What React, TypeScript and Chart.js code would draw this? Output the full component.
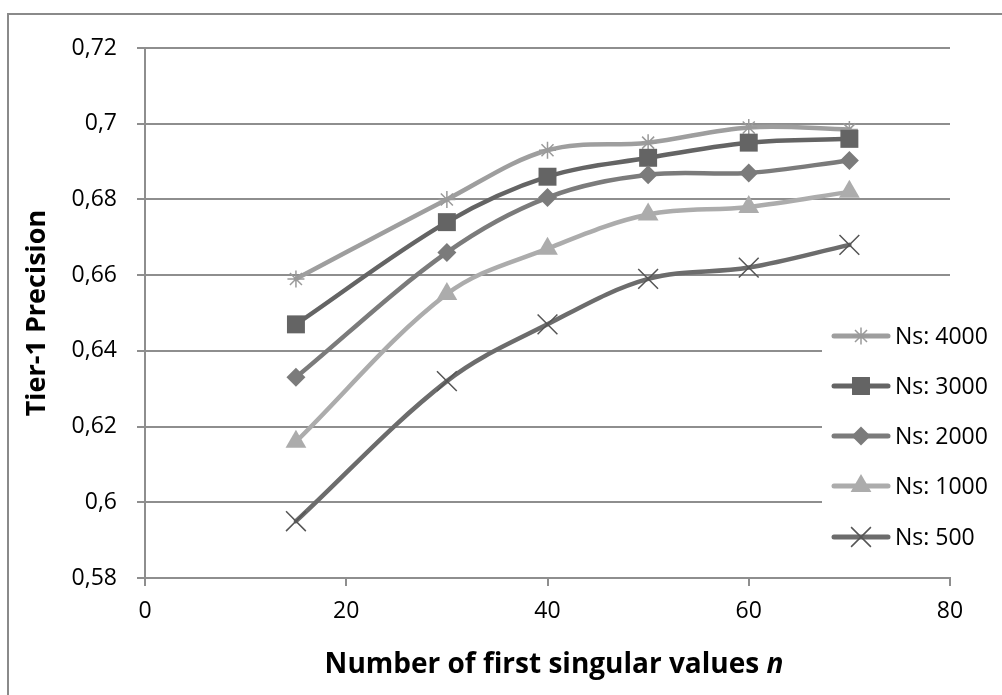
import { useEffect, useRef } from 'react';
import { Chart, registerables } from 'chart.js';

Chart.register(...registerables);

const X_VALUES = [15, 30, 40, 50, 60, 70];
const NS_4000 = [0.659, 0.68, 0.693, 0.695, 0.699, 0.6985];
const NS_3000 = [0.647, 0.674, 0.686, 0.691, 0.695, 0.696];
const NS_2000 = [0.633, 0.666, 0.6805, 0.6865, 0.687, 0.6903];
const NS_1000 = [0.616, 0.655, 0.667, 0.676, 0.678, 0.682];
const NS_500 = [0.595, 0.632, 0.647, 0.659, 0.662, 0.668];

const SERIES_LABELS = ['Ns: 4000', 'Ns: 3000', 'Ns: 2000', 'Ns: 1000', 'Ns: 500'];

const X_TICKS = [0, 20, 40, 60, 80];
const X_TICK_LABELS = ['0', '20', '40', '60', '80'];
const Y_TICKS = [0.58, 0.6, 0.62, 0.64, 0.66, 0.68, 0.7, 0.72];
const Y_TICK_LABELS = ['0,58', '0,6', '0,62', '0,64', '0,66', '0,68', '0,7', '0,72'];

const X_TITLE = 'Number of first singular values ';
const X_TITLE_ITALIC = 'n';
const Y_TITLE = 'Tier-1 Precision';

const FONT = "'Open Sans', 'DejaVu Sans', sans-serif";

type Style = {
  line: string;
  fill: string;
  stroke: string;
  point: string;
  radius: number;
  bw: number;
};

const STYLES: Style[] = [
  { line: '#9e9e9e', fill: 'rgba(0,0,0,0)', stroke: '#9a9a9a', point: 'star', radius: 8.5, bw: 1.5 },
  { line: '#646464', fill: '#646464', stroke: '#646464', point: 'rect', radius: 12.7, bw: 0 },
  { line: '#7b7b7b', fill: '#7b7b7b', stroke: '#7b7b7b', point: 'rectRot', radius: 9.5, bw: 0 },
  { line: '#acacac', fill: '#acacac', stroke: '#acacac', point: 'triangle', radius: 12, bw: 0 },
  { line: '#6c6c6c', fill: 'rgba(0,0,0,0)', stroke: '#555555', point: 'crossRot', radius: 14, bw: 1.5 },
];

function drawMarker(ctx: CanvasRenderingContext2D, s: Style, x: number, y: number) {
  const r = s.radius;
  ctx.save();
  ctx.fillStyle = s.fill;
  ctx.strokeStyle = s.stroke;
  ctx.lineWidth = s.bw;
  ctx.beginPath();
  if (s.point === 'rect') {
    const h = r * Math.SQRT1_2;
    ctx.rect(x - h, y - h, 2 * h, 2 * h);
    ctx.fill();
  } else if (s.point === 'rectRot') {
    ctx.moveTo(x, y - r);
    ctx.lineTo(x + r, y);
    ctx.lineTo(x, y + r);
    ctx.lineTo(x - r, y);
    ctx.closePath();
    ctx.fill();
  } else if (s.point === 'triangle') {
    for (let i = 0; i < 3; i++) {
      const a = -Math.PI / 2 + (i * 2 * Math.PI) / 3;
      const px = x + Math.cos(a) * r;
      const py = y + Math.sin(a) * r;
      if (i === 0) ctx.moveTo(px, py);
      else ctx.lineTo(px, py);
    }
    ctx.closePath();
    ctx.fill();
  } else if (s.point === 'crossRot') {
    const o = r * Math.SQRT1_2;
    ctx.moveTo(x - o, y - o);
    ctx.lineTo(x + o, y + o);
    ctx.moveTo(x - o, y + o);
    ctx.lineTo(x + o, y - o);
    ctx.stroke();
  } else if (s.point === 'star') {
    const o = r * Math.SQRT1_2;
    ctx.moveTo(x - r, y);
    ctx.lineTo(x + r, y);
    ctx.moveTo(x, y - r);
    ctx.lineTo(x, y + r);
    ctx.moveTo(x - o, y - o);
    ctx.lineTo(x + o, y + o);
    ctx.moveTo(x - o, y + o);
    ctx.lineTo(x + o, y - o);
    ctx.stroke();
  }
  ctx.restore();
}

const framePlugin = {
  id: 'frameAndLegend',
  beforeDraw(chart: any) {
    const ctx: CanvasRenderingContext2D = chart.ctx;
    ctx.save();
    ctx.strokeStyle = '#8a8a8a';
    ctx.lineWidth = 2;
    ctx.beginPath();
    ctx.moveTo(8, 700);
    ctx.lineTo(8, 14);
    ctx.lineTo(1010, 14);
    ctx.stroke();
    ctx.restore();
  },
  afterDraw(chart: any) {
    const ctx: CanvasRenderingContext2D = chart.ctx;
    ctx.save();
    ctx.fillStyle = '#ffffff';
    ctx.fillRect(822, 306, 176, 262);
    const rowY = [336, 386, 436, 486, 537];
    SERIES_LABELS.forEach((label, i) => {
      const s = STYLES[i];
      const y = rowY[i];
      ctx.save();
      ctx.strokeStyle = s.line;
      ctx.lineWidth = 5;
      ctx.lineCap = 'round';
      ctx.beginPath();
      ctx.moveTo(834, y);
      ctx.lineTo(888, y);
      ctx.stroke();
      ctx.restore();
      drawMarker(ctx, s, 861, y);
      ctx.fillStyle = '#000000';
      ctx.font = `23px ${FONT}`;
      ctx.textBaseline = 'middle';
      ctx.textAlign = 'left';
      ctx.fillText(label, 895, y + 1);
    });
    // x-axis title with italic n
    ctx.fillStyle = '#000000';
    ctx.textBaseline = 'middle';
    ctx.textAlign = 'left';
    const fBold = `bold 28px ${FONT}`;
    const fItal = `italic bold 28px ${FONT}`;
    ctx.font = fBold;
    const w1 = ctx.measureText(X_TITLE).width;
    ctx.font = fItal;
    const w2 = ctx.measureText(X_TITLE_ITALIC).width;
    const cx = 554;
    const start = cx - (w1 + w2) / 2;
    ctx.font = fBold;
    ctx.fillText(X_TITLE, start, 665);
    ctx.font = fItal;
    ctx.fillText(X_TITLE_ITALIC, start + w1, 665);
    ctx.restore();
  },
};

export default function App() {
  const ref = useRef<HTMLCanvasElement | null>(null);

  useEffect(() => {
    if (!ref.current) return;
    const seriesData = [NS_4000, NS_3000, NS_2000, NS_1000, NS_500];
    const datasets = seriesData.map((vals, i) => {
      const s = STYLES[i];
      return {
        label: SERIES_LABELS[i],
        data: X_VALUES.map((x, j) => ({ x, y: vals[j] })),
        borderColor: s.line,
        borderWidth: 4.5,
        borderCapStyle: 'round' as const,
        borderJoinStyle: 'round' as const,
        backgroundColor: s.fill,
        pointStyle: s.point as any,
        pointRadius: s.radius,
        pointBackgroundColor: s.fill,
        pointBorderColor: s.stroke,
        pointBorderWidth: s.bw,
        tension: 0.35,
        fill: false,
        order: 4 - i,
      };
    });

    const chart = new Chart(ref.current, {
      type: 'line',
      data: { datasets },
      plugins: [framePlugin],
      options: {
        animation: false,
        responsive: false,
        devicePixelRatio: 1,
        layout: { padding: { left: 0, top: 48, right: 52, bottom: 0 } },
        plugins: {
          legend: { display: false },
          tooltip: { enabled: false },
        },
        scales: {
          x: {
            type: 'linear',
            min: 0,
            max: 80,
            afterBuildTicks: (scale: any) => {
              scale.ticks = X_TICKS.map((v) => ({ value: v }));
            },
            afterFit: (scale: any) => {
              scale.height = 117;
            },
            ticks: {
              font: { family: FONT, size: 23 },
              color: '#000000',
              padding: 12,
              maxRotation: 0,
              callback: (v: any) => {
                const i = X_TICKS.indexOf(Number(v));
                return i >= 0 ? X_TICK_LABELS[i] : '';
              },
            },
            grid: {
              drawOnChartArea: false,
              drawTicks: true,
              tickLength: 8,
              color: '#8e8e8e',
              lineWidth: 2,
            },
            border: { display: true, color: '#8e8e8e', width: 2 },
            title: { display: false },
          },
          y: {
            type: 'linear',
            min: 0.58,
            max: 0.72,
            afterBuildTicks: (scale: any) => {
              scale.ticks = Y_TICKS.map((v) => ({ value: v }));
            },
            afterFit: (scale: any) => {
              scale.width = 145;
            },
            ticks: {
              font: { family: FONT, size: 23 },
              color: '#000000',
              padding: 20,
              callback: (v: any) => {
                let best = 0;
                Y_TICKS.forEach((t, i) => {
                  if (Math.abs(t - Number(v)) < Math.abs(Y_TICKS[best] - Number(v))) best = i;
                });
                return Y_TICK_LABELS[best];
              },
            },
            grid: {
              drawOnChartArea: true,
              drawTicks: true,
              tickLength: 8,
              color: '#8e8e8e',
              lineWidth: 2,
            },
            border: { display: true, color: '#8e8e8e', width: 2 },
            title: {
              display: true,
              text: Y_TITLE,
              color: '#000000',
              font: { family: FONT, size: 27, weight: 'bold' },
              padding: { top: 21, bottom: 0 },
            },
          },
        },
      },
    });
    return () => chart.destroy();
  }, []);

  return (
    <div style={{ position: 'fixed', left: 0, top: 0, width: 1002, height: 695, background: '#fff' }}>
      <canvas ref={ref} width={1002} height={695} style={{ display: 'block' }} />
    </div>
  );
}
